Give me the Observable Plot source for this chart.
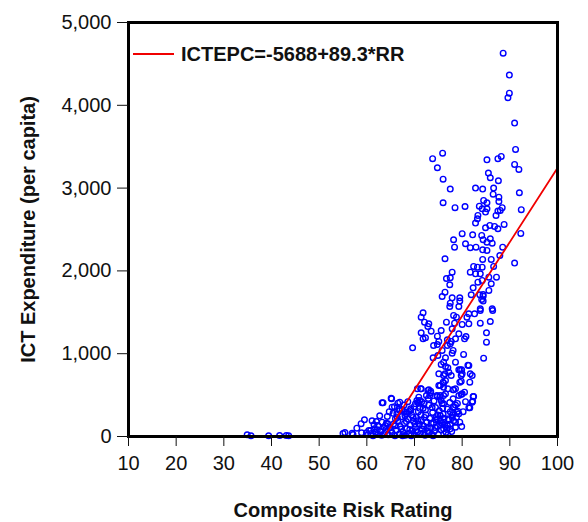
<!DOCTYPE html>
<html>
<head>
<meta charset="utf-8">
<script src="https://cdn.jsdelivr.net/npm/d3@7"></script>
<script src="https://cdn.jsdelivr.net/npm/@observablehq/plot@0.6"></script>
<style>
  body { margin: 0; background: #fff; font-family: "Liberation Sans", Arial, sans-serif; }
  #wrap { position: relative; width: 588px; height: 522px; }
  #legend { position: absolute; left: 133px; top: 41px; display: flex; align-items: center; font-weight: bold; font-size: 20px; color: #111; line-height: 26px; }
  #legend .swatch { width: 41px; height: 2px; background: #f00000; margin-right: 7px; }
</style>
</head>
<body>
<div id="wrap"><div id="legend"><span class="swatch"></span><span id="legendText"></span></div></div>
<script>
// Axis ticks
const xTicks = [10, 20, 30, 40, 50, 60, 70, 80, 90, 100];
const yTicks = [0, 1000, 2000, 3000, 4000, 5000];
// Fitted line: ICTEPC = -5688 + 89.3 * RR
const fitIntercept = -5688;
const fitSlope = 89.3;
const fitRange = [63.7, 100];

// Observations [Composite Risk Rating, ICT expenditure per capita]
const lowRiskPoints = [[34.9,20],[35.7,8],[39.4,8],[41.7,12],[43.1,12],[43.6,8],[55.0,35],[55.4,48],[56.9,38],[57.1,24],[57.9,100],[58.8,155],[59.5,202],[58.9,45],[59.9,45]];
const highSpendPoints = [[88.6,4630],[89.9,4365],[89.9,4147],[89.6,4091],[91.0,3785],[91.2,3467],[73.8,3355],[75.9,3422],[74.8,3246],[76.0,3108],[77.5,2988],[85.2,3342],[87.5,3355],[88.2,3382],[85.5,3181],[85.9,3125],[87.6,3089],[91.0,3286],[91.9,3225],[82.8,3000],[84.3,2988],[86.6,3000],[86.5,2927],[76.0,2823],[78.5,2763],[80.6,2778],[92.0,2944],[92.4,2739],[84.5,2851],[85.2,2823],[87.7,2891],[87.7,2839],[83.6,2782],[84.2,2750],[85.2,2750],[88.4,2763],[87.5,2722],[88.0,2730],[84.9,2710],[83.3,2670],[83.2,2630],[82.8,2577],[87.1,2670],[88.8,2561],[84.9,2521],[85.8,2549],[86.8,2537],[87.5,2509],[92.3,2452],[80.0,2449],[82.2,2436],[84.1,2428],[78.2,2376],[78.4,2287],[80.7,2328],[84.4,2376],[85.9,2388],[85.2,2347],[86.3,2335],[81.7,2280],[82.9,2287],[84.3,2255],[85.2,2247],[88.5,2287],[87.9,2186],[84.3,2138],[86.1,2138],[76.4,2147],[91.0,2094],[82.4,2054],[83.2,2045],[84.2,2045],[86.6,2054]];
const midSpendPoints = [[81.7,1985],[77.9,1985],[83.8,1965],[87.2,1924],[77.5,1917],[76.7,1908],[77.4,1833],[76.4,1743],[75.8,1691],[77.9,1675],[79.5,1675],[79.5,1635],[77.5,1610],[77.4,1570],[79.3,1570],[86.1,1845],[85.6,1764],[84.4,1715],[84.1,1655],[85.6,1924],[82.8,1965],[82.3,1796],[81.9,1712],[83.8,1543],[86.3,1543],[83.3,1864],[84.2,1885],[83.7,1712],[84.4,1695],[84.4,1635],[83.8,1522],[86.4,1522],[71.8,1494],[71.4,1441],[78.2,1462],[78.8,1441],[81.4,1482],[82.6,1482],[81.0,1441],[72.1,1381],[73.0,1361],[72.8,1329],[76.7,1381],[78.4,1369],[80.0,1353],[81.4,1361],[83.8,1369],[85.9,1389],[77.9,1301],[73.5,1272],[75.6,1280],[71.4,1252],[79.3,1240],[85.1,1252],[74.8,1212],[71.8,1180],[72.3,1192],[76.9,1168],[77.7,1148],[77.5,1120],[76.9,1099],[78.6,1180],[80.8,1208],[80.5,1180],[85.1,1139],[75.1,1148],[74.8,1111],[74.0,1099],[69.6,1071],[75.8,1039],[78.1,1039],[77.9,1006]];
const lowerMidPoints = [[80.3,991],[73.9,951],[74.9,978],[76.5,951],[78.6,898],[76.1,898],[84.5,946],[75.6,870],[76.5,846],[77.0,830],[81.4,858],[79.3,806],[79.9,806],[81.2,862],[79.6,806],[80.0,757],[79.8,737],[81.7,757],[82.1,737],[75.1,757],[76.4,757],[77.7,737],[79.5,656],[79.8,668],[81.6,656],[75.4,616],[76.1,644],[77.0,576],[78.1,564],[71.4,576],[73.0,564],[73.4,528],[73.2,495],[80.0,516],[80.5,535],[82.3,483],[71.3,576],[72.8,556],[73.4,547],[72.5,495],[74.8,483],[75.3,475],[76.1,495],[75.1,616],[76.1,596],[76.5,676],[76.1,737],[77.2,777],[76.0,656],[78.2,564],[79.8,507],[78.6,576],[79.3,495],[70.6,576],[65.2,455],[65.1,463]];
const lowSpendPoints = [[82.1,414],[81.6,347],[74.7,495],[75.4,495],[76.5,516],[75.6,435],[76.1,395],[78.1,455],[78.1,354],[70.5,435],[70.9,402],[72.0,395],[78.9,294],[79.3,274],[77.9,233],[79.5,173],[78.6,112],[76.1,173],[76.9,133],[77.5,93],[76.1,93],[82.4,483],[82.2,426],[81.4,347],[78.4,354],[79.1,306],[78.1,281],[78.8,233],[78.6,173],[77.5,145],[77.1,214],[75.4,254],[74.8,214],[75.8,161],[63.4,407],[65.3,354],[66.9,414],[66.5,402],[66.9,314],[68.3,294],[69.2,335],[70.7,414],[71.1,435],[63.2,407],[64.3,242],[63.2,173],[62.3,133],[63.9,133],[64.4,153],[66.3,274],[66.0,214],[67.4,322],[68.3,274],[70.2,395],[70.9,475],[69.2,314],[60.4,72],[61.5,141],[61.6,93],[60.8,72],[62.2,81],[63.6,112],[64.1,161],[65.0,72]];
const denseClusterPoints = [[60.2,20],[60.9,35],[61.3,10],[61.8,50],[62.4,25],[62.9,60],[63.1,15],[63.7,40],[64.0,85],[64.5,20],[64.8,110],[65.3,45],[65.6,150],[65.9,10],[66.2,75],[66.5,190],[66.8,30],[67.0,120],[67.3,240],[67.6,55],[67.9,160],[68.1,15],[68.4,95],[68.7,210],[68.9,40],[69.1,140],[69.4,260],[69.6,70],[69.8,185],[70.0,20],[70.2,110],[70.4,230],[70.6,55],[70.8,300],[71.0,150],[71.2,30],[71.4,200],[71.6,90],[71.8,340],[72.0,125],[72.2,15],[72.4,260],[72.6,175],[72.8,60],[73.0,380],[73.2,220],[73.4,105],[73.6,30],[73.8,290],[74.0,160],[74.2,70],[74.4,350],[74.6,240],[74.8,120],[75.0,25],[75.2,310],[75.4,190],[75.6,80],[75.8,400],[76.0,270],[76.3,140],[76.6,50],[76.9,330],[77.2,200],[77.5,300],[77.8,60],[78.2,190],[78.6,380],[65.5,280],[66.7,330],[67.8,380],[68.6,420],[69.9,360],[71.5,420],[72.9,460],[74.1,430],[62.0,180],[62.7,250],[61.1,190],[69.3,10],[71.9,45],[73.9,10],[75.5,140],[77.0,20],[66.0,130],[67.2,90],[68.0,250],[70.1,150],[72.3,320],[74.9,260],[76.2,220],[71.3,260],[73.5,160],[69.0,85],[70.7,190],[72.7,105],[68.8,300],[67.5,10],[64.7,300],[65.8,360],[73.1,40],[75.9,340],[74.5,200],[72.1,230],[70.3,70],[69.7,230],[71.7,130],[73.7,350],[76.8,100],[78.0,260],[77.4,410],[79.0,400],[80.2,300],[79.9,120],[80.7,420],[74.3,110],[71.1,340],[68.3,180],[66.4,230],[67.9,300]];

const points = [...lowRiskPoints, ...highSpendPoints, ...midSpendPoints, ...lowerMidPoints, ...lowSpendPoints, ...denseClusterPoints]
  .map(([rr, ictepc]) => ({rr, ictepc}));
const fitLine = fitRange.map(rr => ({rr, ictepc: fitIntercept + fitSlope * rr}));

document.getElementById("legendText").textContent = `ICTEPC=${fitIntercept}+${fitSlope}*RR`;

const chart = Plot.plot({
  width: 588,
  height: 522,
  marginLeft: 128,
  marginRight: 31,
  marginTop: 22,
  marginBottom: 86,
  style: {fontFamily: "'Liberation Sans', Arial, sans-serif", fontSize: "20px", color: "#111", background: "#fff"},
  x: {domain: [10, 100]},
  y: {domain: [0, 5000]},
  marks: [
    Plot.dot(points, {x: "rr", y: "ictepc", r: 2.8, stroke: "#0000ff", strokeWidth: 1.4, fill: "none"}),
    Plot.line(fitLine, {x: "rr", y: "ictepc", stroke: "#f00000", strokeWidth: 1.8}),
    Plot.frame({stroke: "#000", strokeWidth: 3}),
    Plot.axisX({ticks: xTicks, tickSize: 10, tickPadding: 9, label: null, fontSize: 20}),
    Plot.axisY({ticks: yTicks, tickSize: 11, tickPadding: 6, tickFormat: d3.format(","), label: null, fontSize: 20}),
    Plot.text(["Composite Risk Rating"], {frameAnchor: "bottom", dy: 80, fontWeight: "bold", fontSize: 20, fill: "#111"}),
    Plot.text(["ICT Expenditure (per capita)"], {frameAnchor: "left", dx: -100, rotate: -90, textAnchor: "middle", lineAnchor: "middle", fontWeight: "bold", fontSize: 20, fill: "#111"})
  ]
});
document.getElementById("wrap").prepend(chart);
</script>
</body>
</html>
